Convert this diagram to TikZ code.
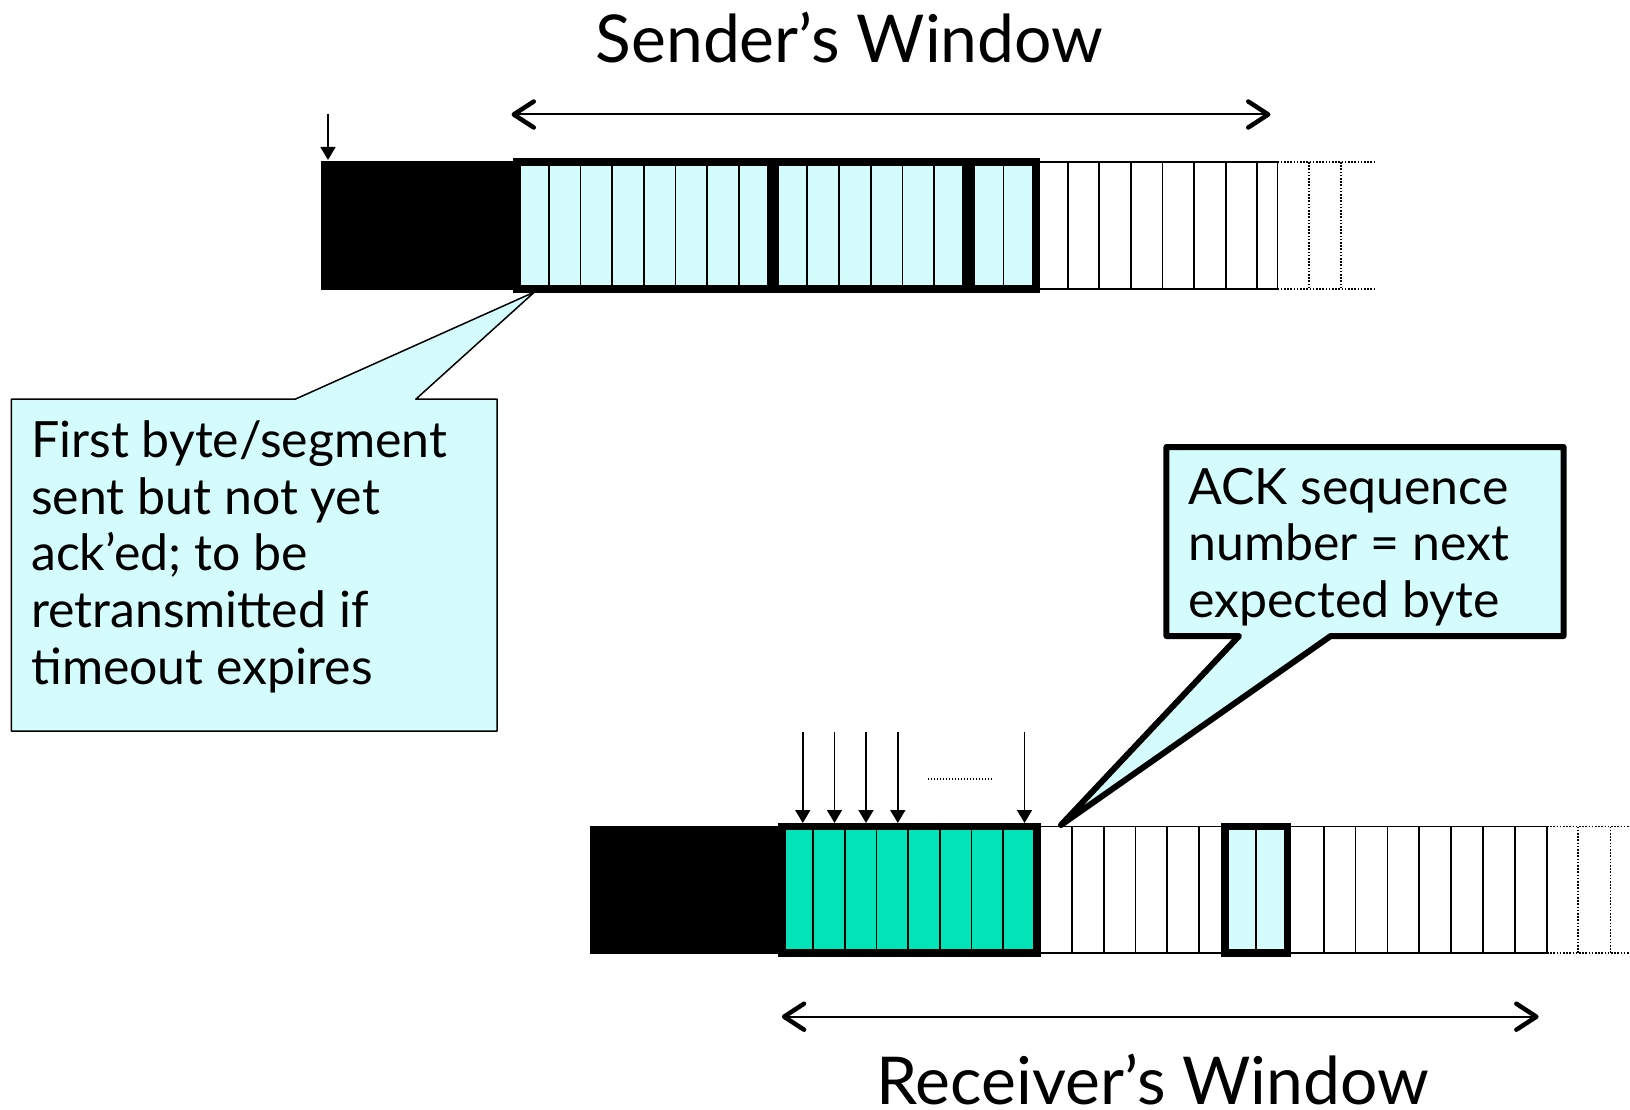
\documentclass[tikz,border=0pt]{standalone}
\usepackage{fontspec}
\setmainfont{Lato}
\usetikzlibrary{arrows.meta}
\definecolor{sentcyan}{RGB}{212,252,252}
\definecolor{rcvgreen}{RGB}{0,228,184}
\tikzset{
  cellline/.style={draw=black,line width=1.8pt},
  dotcell/.style={draw=black,line width=1.6pt,dash pattern=on 1.6pt off 1.6pt},
  boldbox/.style={draw=black,line width=7.5pt},
  winarrow/.style={>={Straight Barb[length=20pt,width=26pt,line width=4.5pt,round]},<->,line width=2pt},
  ptr/.style={-{Triangle[length=13pt,width=15pt]},line width=1.6pt},
  title/.style={font=\fontsize{66}{70}\selectfont,inner sep=0pt},
  note/.style={font=\fontsize{50}{56.6}\selectfont,align=left,inner sep=0pt},
  notebox/.style={fill=sentcyan,draw=black,line width=#1,line join=round},
  notebox/.default=1.5pt,
}
\begin{document}
\begin{tikzpicture}[x=1pt,y=-1pt]
  \useasboundingbox (0,0) rectangle (1630,1110);

  % sender side
  \node[title,anchor=base] (swin) at (849.5,62.4) {Sender's Window};
  \coordinate (swl) at (511.5,114.5);
  \coordinate (swr) at (1270.5,114.5);
  \draw[winarrow] (swl) -- (swr);
  \coordinate (sbase) at (328,114);
  \coordinate (shead) at (328,160);
  \draw[ptr] (sbase) -- (shead);

  \fill[draw=black,line width=1.8pt] (322,162) rectangle (517,289);
  \fill[sentcyan] (517,162) rectangle (1036,289);
  \foreach \i in {1,...,7} \draw[cellline] ({517+\i*31.7},162) -- ++(0,127);
  \foreach \i in {1,...,5} \draw[cellline] ({775.5+\i*31.75},162) -- ++(0,127);
  \draw[cellline] (1003.5,162) -- ++(0,127);
  \draw[boldbox] (517,162) rectangle (770.5,289);
  \draw[boldbox] (775.5,162) rectangle (965.5,289);
  \draw[boldbox] (971.25,162) rectangle (1036,289);
  % usable but not yet sent
  \draw[cellline] (1036,162) -- (1277.5,162) (1036,289) -- (1277.5,289);
  \foreach \i in {1,...,7} \draw[cellline] ({1036+\i*31.6},162) -- ++(0,127);
  \draw[cellline] (1277.5,162) -- ++(0,127);
  \draw[dotcell] (1277.5,162) -- (1374,162) (1277.5,289) -- (1374,289);
  \foreach \x in {1309,1341} \draw[dotcell] (\x,162) -- ++(0,127);

  % receiver side
  \fill[draw=black,line width=1.8pt] (591,826.5) rectangle (782,953);
  \fill[rcvgreen] (782,826.5) rectangle (1037,953);
  \foreach \i in {1,...,7} \draw[cellline] ({781.5+\i*31.65},826.5) -- ++(0,126.5);
  \draw[boldbox] (782,826.5) rectangle (1037,953);
  \draw[cellline] (1037,826.5) -- (1547,826.5) (1037,953) -- (1547,953);
  \foreach \i in {1,...,5} \draw[cellline] ({1040+\i*31.8},826.5) -- ++(0,126.5);
  \fill[sentcyan] (1225,826.5) rectangle (1287.5,953);
  \draw[cellline] (1256,826.5) -- ++(0,126.5);
  \draw[boldbox] (1225,826.5) rectangle (1287.5,953);
  \foreach \i in {1,...,8} \draw[cellline] ({1291.7+\i*31.9},826.5) -- ++(0,126.5);
  \draw[dotcell] (1547,826.5) -- (1630,826.5) (1547,953) -- (1630,953);
  \foreach \x in {1578,1610.5} \draw[dotcell] (\x,826.5) -- ++(0,126.5);

  % arriving bytes
  \foreach \x [count=\k] in {802.8,834.5,866,897.8,1024.5} {
    \coordinate (in\k) at (\x,732);
    \coordinate (at\k) at (\x,823);
    \draw[ptr] (in\k) -- (at\k);
  }
  \draw[dotcell,line width=1.2pt,dash pattern=on 1.2pt off 1.8pt] (928,779) -- (993,779);

  \coordinate (rwl) at (781.8,1016.7);
  \coordinate (rwr) at (1538.6,1016.7);
  \draw[winarrow] (rwl) -- (rwr);
  \node[title,anchor=base] (rwin) at (1152.8,1104) {Receiver's Window};

  % callouts (base anchor sits on the last line)
  \coordinate (firsttip) at (534.5,292);
  \draw[notebox] (11.4,399.2) -- (295.2,399.2) -- (firsttip) -- (415.8,399.2)
    -- (497,399.2) -- (497,731) -- (11.4,731) -- cycle;
  \node[note,anchor=base west] (firstnote) at (31,684)
    {First byte/segment\\sent but not yet\\ack'ed; to be\\retransmitted if\\timeout expires};

  \coordinate (acktip) at (1061,825);
  \draw[notebox=6pt] (1166.4,447) -- (1563.6,447) -- (1563.6,636) -- (1330.7,636)
    -- (acktip) -- (1239,636) -- (1166.4,636) -- cycle;
  \node[note,anchor=base west] (acknote) at (1188,617.5)
    {ACK sequence\\number = next\\expected byte};
\end{tikzpicture}
\end{document}
